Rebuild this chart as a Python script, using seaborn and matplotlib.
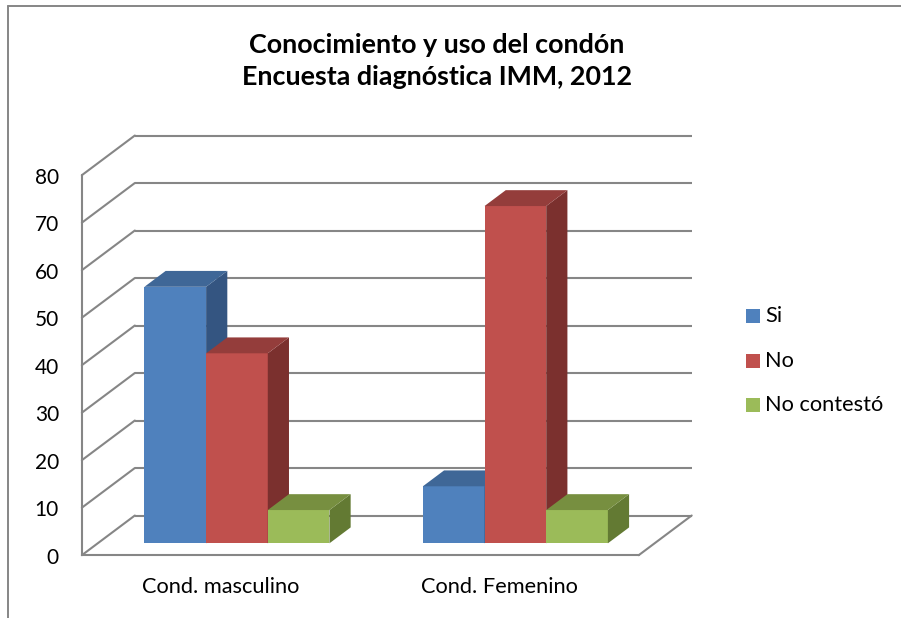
import numpy as np
import pandas as pd
import matplotlib
matplotlib.use("Agg")
import matplotlib.pyplot as plt
import seaborn as sns
from matplotlib.patches import Polygon, Rectangle
from matplotlib.lines import Line2D

# ---- data ----
categories = ["Cond. masculino", "Cond. Femenino"]
series = ["Si", "No", "No contestó"]
si = [54, 12]
no = [40, 71]
no_contesto = [7, 7]
y_ticks = [0, 10, 20, 30, 40, 50, 60, 70, 80]
title_lines = ["Conocimiento y uso del condón", "Encuesta diagnóstica IMM, 2012"]

# ---- styles ----
front_colors = ["#4F81BD", "#C0504D", "#9BBB59"]
top_colors = ["#3F6797", "#943D3B", "#778F40"]
side_colors = ["#345581", "#7B302E", "#637A33"]
grid_color = "#868686"
FONT = ["Lato", "DejaVu Sans"]

sns.set_style("white")
plt.rcParams["font.family"] = FONT

W, H = 901, 618
fig = plt.figure(figsize=(W / 100, H / 100), dpi=100)
ax = fig.add_axes([0, 0, 1, 1])

rows = []
for s, vals in zip(series, [si, no, no_contesto]):
    for c, v in zip(categories, vals):
        rows.append({"cat": c, "serie": s, "val": v})
df = pd.DataFrame(rows)

sns.barplot(data=df, x="cat", y="val", hue="serie", order=categories,
            hue_order=series, palette=front_colors, width=0.6645,
            saturation=1, linewidth=0, legend=False, errorbar=None, ax=ax)

# mapping: front-face plane of bars
ax.set_xlim(-0.851, 2.385)
ax.set_ylim(-15.726, 114.38)
ax.axis("off")

dx, dy = 0.1904, 8.358     # full depth vector (data units)
f0, f1 = 0.3, 0.7          # bar depth position
L, R = -0.5, 1.5

# walls / grid
glw = 1.5
for v in y_ticks:
    ax.plot([L + f1 * dx, R + f1 * dx], [v + f1 * dy] * 2, color=grid_color, lw=glw, zorder=1,
            solid_capstyle="butt")
    ax.plot([L - f0 * dx, L + f1 * dx], [v - f0 * dy, v + f1 * dy], color=grid_color, lw=glw, zorder=1)
    ax.text(L - f0 * dx - 0.082, v - f0 * dy - 0.5, str(v), ha="right", va="center",
            fontsize=15, color="black")
ax.plot([L - f0 * dx] * 2, [-f0 * dy, y_ticks[-1] - f0 * dy], color=grid_color, lw=glw, zorder=1)
ax.plot([L - f0 * dx, R - f0 * dx], [-f0 * dy] * 2, color=grid_color, lw=glw, zorder=1)
ax.plot([R - f0 * dx, R + f1 * dx], [-f0 * dy, f1 * dy], color=grid_color, lw=glw, zorder=1)

# 3D faces
items = []
for hi, cont in enumerate(ax.containers):
    for p in cont:
        items.append((p, hi))
items.sort(key=lambda t: t[0].get_x())
bd = f1 - f0
for i, (p, hi) in enumerate(items):
    x0, w, h = p.get_x(), p.get_width(), p.get_height()
    z = 10 + 3 * i
    p.set_zorder(z)
    side = Polygon([(x0 + w, 0), (x0 + w, h), (x0 + w + bd * dx, h + bd * dy),
                    (x0 + w + bd * dx, bd * dy)], closed=True,
                   facecolor=side_colors[hi], edgecolor="none", zorder=z + 1)
    top = Polygon([(x0, h), (x0 + w, h), (x0 + w + bd * dx, h + bd * dy),
                   (x0 + bd * dx, h + bd * dy)], closed=True,
                  facecolor=top_colors[hi], edgecolor="none", zorder=z + 2)
    ax.add_patch(side)
    ax.add_patch(top)

# category labels
for ci, c in enumerate(categories):
    ax.text(ci - f0 * dx, -9.3, c, ha="center", va="center", fontsize=15.7, color="black")

def fx(px):
    return px / W

def fy(py):
    return 1 - py / H

# title
fig.text(fx(437), fy(53), title_lines[0], ha="center", va="baseline", fontsize=19.4,
         fontweight="bold", color="black")
fig.text(fx(437), fy(85), title_lines[1], ha="center", va="baseline", fontsize=19.4,
         fontweight="bold", color="black")

# legend
for s, col, yc in zip(series, front_colors, [316, 361, 405]):
    fig.add_artist(Rectangle((fx(746), fy(yc + 7)), 14 / W, 14 / H, transform=fig.transFigure,
                             facecolor=col, edgecolor="none"))
    fig.text(fx(765), fy(yc), s, ha="left", va="center", fontsize=15.7, color="black")

# chart frame (top and left edges visible)
fig.add_artist(Line2D([fx(8), fx(901)], [fy(6), fy(6)], transform=fig.transFigure,
                      color=grid_color, lw=1.4))
fig.add_artist(Line2D([fx(8), fx(8)], [fy(6), fy(618)], transform=fig.transFigure,
                      color=grid_color, lw=1.4))

fig.savefig("out.png", dpi=100, facecolor="white")
